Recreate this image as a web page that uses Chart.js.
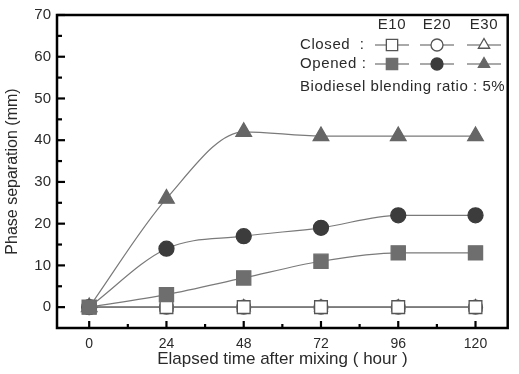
<!DOCTYPE html>
<html>
<head>
<meta charset="utf-8">
<script src="https://cdn.jsdelivr.net/npm/chart.js@4.4.1/dist/chart.umd.min.js"></script>
<style>
  html, body { margin: 0; padding: 0; background: #fff; }
  #wrap { width: 519px; height: 374px; }
</style>
</head>
<body>
<div id="wrap"><canvas id="chart" width="519" height="374"></canvas></div>
<script>
const hours = [0, 24, 48, 72, 96, 120];
const closedE10 = [0, 0, 0, 0, 0, 0];
const closedE20 = [0, 0, 0, 0, 0, 0];
const closedE30 = [0, 0, 0, 0, 0, 0];
const openedE10 = [0, 3, 7, 11, 13, 13];
const openedE20 = [0, 14, 17, 19, 22, 22];
const openedE30 = [0, 26, 42, 41, 41, 41];
const xTicks = [0, 24, 48, 72, 96, 120];
const yTicks = [0, 10, 20, 30, 40, 50, 60, 70];

const font = "Arial, 'Liberation Sans', sans-serif";
const lineGrey = "#7a7a7a";
const textCol = "#2a2a2a";

function pts(values) {
  return values.map((v, i) => ({ x: hours[i], y: v }));
}

function series(label, values, style, fill, radius, curved) {
  return {
    label,
    data: pts(values),
    borderColor: lineGrey,
    borderWidth: 1.2,
    pointStyle: style,
    pointRadius: radius,
    pointBackgroundColor: fill,
    pointBorderColor: fill === "#fff" ? "#555" : fill,
    pointBorderWidth: 1.3,
    cubicInterpolationMode: curved ? "monotone" : "default",
    tension: 0,
  };
}

// inward ticks, frame and legend
const decor = {
  id: "decor",
  afterDraw(chart) {
    const { ctx, chartArea: a, scales } = chart;
    const xs = scales.x, ys = scales.y;
    ctx.save();
    ctx.strokeStyle = "#000";
    ctx.lineWidth = 2.2;
    for (let v = 0; v <= 70; v += 5) {
      const y = ys.getPixelForValue(v);
      const len = v % 10 === 0 ? 8 : 5;
      ctx.beginPath();
      ctx.moveTo(a.left, y);
      ctx.lineTo(a.left + len, y);
      ctx.stroke();
    }
    for (let v = 0; v <= 120; v += 12) {
      const x = xs.getPixelForValue(v);
      const len = v % 24 === 0 ? 7 : 4;
      ctx.beginPath();
      ctx.moveTo(x, a.bottom);
      ctx.lineTo(x, a.bottom - len);
      ctx.stroke();
    }
    ctx.lineWidth = 2.5;
    ctx.strokeRect(a.left, a.top, a.right - a.left, a.bottom - a.top);

    // legend
    ctx.fillStyle = textCol;
    ctx.font = "15px " + font;
    ctx.letterSpacing = "0.6px";
    ctx.textBaseline = "middle";
    const cols = [392, 437, 484];
    const heads = ["E10", "E20", "E30"];
    ctx.textAlign = "center";
    heads.forEach((h, i) => ctx.fillText(h, cols[i], 25));
    ctx.textAlign = "left";
    ctx.fillText("Closed  :", 300, 45);
    ctx.fillText("Opened :", 300, 64);
    ctx.letterSpacing = "0.55px";
    ctx.fillText("Biodiesel blending ratio : 5%", 300, 87);
    ctx.letterSpacing = "0px";
    const styles = ["rect", "circle", "triangle"];
    const radii = [8, 6, 6.5];
    const fills = ["#6e6e6e", "#3c3c3c", "#666"];
    [45, 64].forEach((y, row) => {
      cols.forEach((cx, i) => {
        ctx.strokeStyle = "#555";
        ctx.lineWidth = 1.2;
        ctx.beginPath();
        ctx.moveTo(cx - 17, y);
        ctx.lineTo(cx + 17, y);
        ctx.stroke();
        const fill = row === 0 ? "#fff" : fills[i];
        ctx.fillStyle = fill;
        ctx.strokeStyle = row === 0 ? "#555" : fill;
        ctx.lineWidth = 1.3;
        Chart.helpers.drawPoint(ctx, { pointStyle: styles[i], radius: radii[i], rotation: 0, borderWidth: 1.3 }, cx, y);
      });
    });
    ctx.restore();
  },
};

new Chart(document.getElementById("chart"), {
  type: "line",
  data: {
    datasets: [
      series("Opened E10", openedE10, "rect", "#6e6e6e", 10, true),
      series("Opened E20", openedE20, "circle", "#3c3c3c", 7.5, true),
      series("Opened E30", openedE30, "triangle", "#666", 9, true),
      series("Closed E10", closedE10, "rect", "#fff", 9, false),
      series("Closed E20", closedE20, "circle", "#fff", 7, false),
      series("Closed E30", closedE30, "triangle", "#fff", 7.5, false),
    ],
  },
  options: {
    responsive: false,
    animation: false,
    layout: { padding: { top: 12, right: 3, left: 0, bottom: 0 } },
    plugins: { legend: { display: false }, tooltip: { enabled: false } },
    scales: {
      x: {
        type: "linear",
        min: -10,
        max: 130,
        afterBuildTicks: (s) => { s.ticks = xTicks.map((v) => ({ value: v })); },
        afterFit: (s) => { s.height = 46; },
        grid: { display: false, drawTicks: false },
        border: { display: false },
        ticks: { color: textCol, font: { family: font, size: 14 }, padding: 8, maxRotation: 0 },
        title: { display: true, text: "Elapsed time after mixing ( hour )", color: textCol, font: { family: font, size: 17 }, padding: { top: 0 } },
      },
      y: {
        min: -5,
        max: 70,
        afterBuildTicks: (s) => { s.ticks = yTicks.map((v) => ({ value: v })); },
        afterFit: (s) => { s.width = 57; },
        grid: { display: false, drawTicks: false },
        border: { display: false },
        ticks: { color: textCol, font: { family: font, size: 15 }, padding: 6 },
        title: { display: true, text: "Phase separation (mm)", color: textCol, font: { family: font, size: 16 }, padding: { bottom: 0, top: 3 } },
      },
    },
  },
  plugins: [decor],
});
</script>
</body>
</html>
